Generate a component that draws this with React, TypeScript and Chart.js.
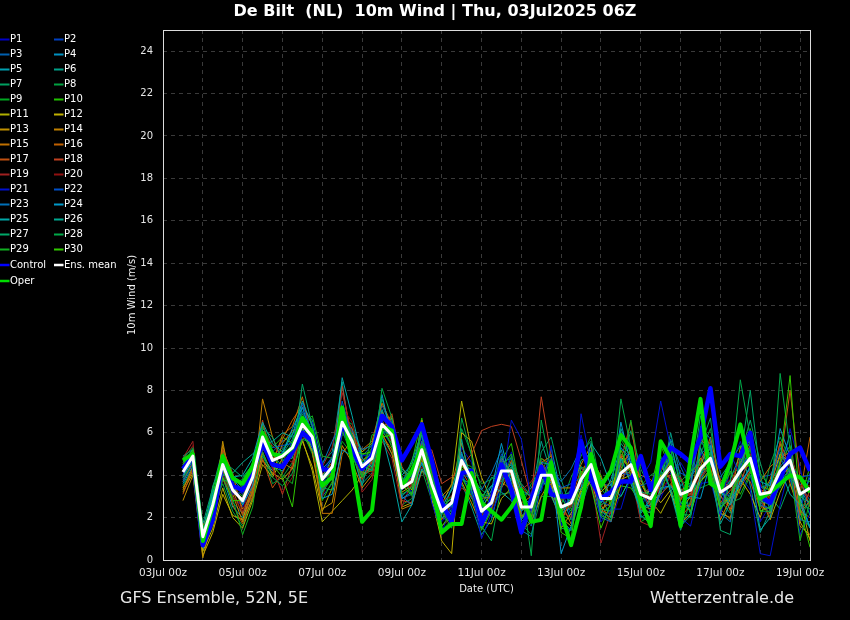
import React, { useEffect, useRef } from 'react';
import { Chart, registerables } from 'chart.js';

Chart.register(...registerables);

// ---------- texts ----------
const titleText = 'De Bilt  (NL)  10m Wind | Thu, 03Jul2025 06Z';
const yAxisTitle = '10m Wind (m/s)';
const xAxisTitle = 'Date (UTC)';
const footerLeft = 'GFS Ensemble, 52N, 5E';
const footerRight = 'Wetterzentrale.de';

// ---------- axes ----------
const firstLeadHour = 12; // hours after 03Jul 00z of the first value
const stepHours = 6;
const xMaxHour = 390;
const dayTickHours = [0, 24, 48, 72, 96, 120, 144, 168, 192, 216, 240, 264, 288, 312, 336, 360, 384];
const dayTickLabels = ['03Jul 00z', '', '05Jul 00z', '', '07Jul 00z', '', '09Jul 00z', '', '11Jul 00z', '', '13Jul 00z', '', '15Jul 00z', '', '17Jul 00z', '', '19Jul 00z'];
const yTicks = [0, 2, 4, 6, 8, 10, 12, 14, 16, 18, 20, 22, 24];
const yMax = 25;

// ---------- series ----------
const p01 = [4.0,4.8,0.9,2.2, 4.3,3.0,2.5,3.6, 5.5,4.9,5.3,5.0, 6.2,6.3,4.1,4.9, 6.8,5.2,4.0,5.1, 6.9,6.6,3.1,3.3, 5.8,3.0,1.8,2.4, 5.3,4.6,2.7,2.0, 3.6,5.1,3.2,1.9, 4.7,3.3,1.6,3.5, 5.9,4.0,2.2,1.8, 3.2,5.4,3.9,2.4, 2.9,4.1,4.6,3.8, 5.1,3.9,2.0,4.4, 5.6,4.0,1.8,2.6, 3.5,6.2,4.4,2.1];
const p02 = [4.3,5.1,1.3,2.9, 4.8,3.6,3.1,4.1, 5.9,4.3,4.6,5.6, 6.6,5.5,3.4,4.0, 6.2,6.0,4.8,4.5, 6.1,5.4,3.8,4.2, 4.6,4.0,2.9,3.3, 4.1,3.1,1.7,3.2, 5.0,3.6,1.9,3.1, 3.3,4.6,3.3,2.1, 3.0,5.2,3.6,3.5, 4.9,3.7,2.4,3.6, 4.5,5.2,2.6,2.5, 3.4,5.6,4.1,2.8, 3.3,5.5,3.9,4.0, 4.9,3.8,2.3,4.1];
const p03 = [3.8,4.6,0.7,2.0, 4.1,2.7,2.2,3.4, 5.2,5.1,5.6,5.9, 7.0,6.1,3.0,3.6, 5.9,5.9,4.9,5.4, 7.3,6.2,2.9,3.1, 5.4,4.4,2.0,1.8, 4.4,4.3,3.0,2.9, 4.6,4.8,2.2,1.6, 3.9,4.7,2.9,3.3, 4.4,3.5,2.0,2.4, 4.6,4.8,3.4,2.2, 3.3,3.5,2.9,4.1, 5.9,4.2,2.5,3.0, 4.0,5.3,2.7,2.4, 5.1,4.1,3.6,2.8];
const p04 = [4.5,5.0,1.5,3.1, 4.9,3.8,3.3,4.3, 6.1,4.4,4.2,5.0, 5.9,5.2,4.3,4.8, 7.1,5.5,4.1,4.3, 6.0,6.3,4.0,4.5, 5.9,3.3,2.5,2.9, 5.1,3.2,1.5,2.4, 4.3,3.8,2.9,3.4, 4.4,3.6,2.2,2.5, 3.6,5.0,3.8,3.0, 4.2,4.1,2.8,3.3, 4.0,4.6,3.5,3.9, 4.6,5.3,3.6,3.1, 3.6,4.4,2.8,3.7, 4.4,5.0,2.6,3.9];
const p05 = [3.6,4.4,0.5,1.8, 3.9,2.5,2.0,3.2, 4.9,4.2,4.5,4.9, 6.0,5.3,3.2,4.2, 6.4,6.2,4.6,4.4, 6.6,5.6,3.5,3.9, 4.9,4.2,2.6,2.6, 4.0,2.9,2.6,3.5, 3.8,4.6,3.0,2.6, 3.4,5.3,3.1,1.9, 3.4,4.3,2.7,3.8, 5.3,4.6,2.5,2.6, 3.6,5.0,3.0,2.9, 3.9,5.1,2.9,3.8, 5.0,4.6,3.5,3.0, 3.7,4.3,3.3,2.6];
const p06 = [4.9,5.2,1.7,3.4, 5.2,4.0,3.6,4.6, 6.4,5.0,4.4,5.4, 7.2,6.6,4.6,5.1, 8.4,5.1,3.6,4.1, 5.8,5.0,3.0,3.5, 6.2,4.8,3.2,2.2, 3.6,2.5,1.2,1.9, 3.9,4.4,3.6,3.0, 5.6,4.1,1.9,1.4, 3.1,4.8,3.0,2.0, 6.2,5.0,2.1,1.7, 3.5,6.0,3.9,2.2, 3.8,4.5,3.9,4.6, 5.4,3.5,1.3,2.3, 4.5,5.9,2.0,1.6];
const p07 = [3.5,4.3,0.6,2.9, 4.6,3.5,2.6,3.8, 5.7,4.6,5.0,5.7, 6.9,5.9,3.5,3.9, 6.0,5.4,4.3,4.9, 6.2,6.7,4.2,3.8, 4.5,3.4,2.1,3.4, 4.8,3.5,2.2,2.7, 3.1,3.2,1.6,2.2, 5.1,5.8,3.8,2.4, 2.5,3.9,3.3,4.2, 4.4,6.1,4.3,3.3, 4.9,3.2,1.4,2.8, 5.4,6.7,2.8,2.2, 4.9,6.6,4.6,3.0, 2.4,3.6,2.4,1.5];
const p08 = [4.2,4.9,1.2,2.5, 3.6,2.3,1.6,3.0, 5.0,3.6,3.9,4.6, 6.1,5.0,3.1,4.5, 6.7,6.4,5.0,5.0, 7.6,6.0,2.6,2.9, 4.3,2.8,1.4,1.6, 6.2,5.0,3.3,3.0, 4.9,3.9,1.7,1.2, 3.0,3.0,2.6,3.9, 4.9,5.8,3.4,2.7, 3.0,3.9,3.5,4.0, 4.3,4.9,2.2,2.0, 5.0,6.2,3.4,2.7, 2.9,4.0,2.5,4.5, 5.8,4.7,1.9,2.9];
const p09 = [3.9,4.5,1.0,2.7, 4.4,3.4,3.0,4.0, 5.9,4.8,5.2,6.0, 6.3,5.6,3.6,4.0, 5.6,5.0,4.6,5.3, 6.4,6.1,3.6,3.0, 5.5,3.8,1.2,1.9, 4.6,4.4,3.6,3.8, 4.4,2.9,2.5,3.6, 4.2,5.0,2.1,1.9, 4.1,4.4,2.1,2.6, 5.7,4.9,1.8,2.1, 4.1,5.4,3.7,3.6, 3.4,3.6,3.4,4.1, 4.3,5.2,3.0,2.0, 3.8,4.8,3.8,3.7];
const p10 = [4.4,4.7,1.4,3.3, 5.1,3.9,3.4,4.2, 6.3,5.3,5.8,5.5, 6.0,5.1,2.8,3.7, 6.9,5.8,3.9,4.7, 6.5,5.3,3.3,4.6, 6.7,3.9,2.4,3.0, 3.9,3.0,1.4,2.3, 4.7,5.5,3.0,2.0, 3.6,3.9,2.9,3.0, 2.8,4.7,4.0,2.5, 3.5,3.4,2.7,3.4, 5.4,4.3,2.4,3.4, 4.1,5.4,3.0,4.2, 3.1,4.1,3.5,3.3, 4.6,5.4,2.8,4.4];
const p11 = [3.2,4.1,0.4,1.5, 3.4,2.0,1.5,2.8, 4.5,3.9,4.8,5.4, 5.7,4.2,1.8,2.3, 2.8,3.3,4.0,4.4, 6.7,6.7,2.5,2.7, 4.9,3.9,2.6,3.6, 7.5,5.2,1.8,1.7, 2.9,3.4,2.4,2.8, 4.6,3.7,1.5,2.2, 3.3,4.1,3.2,3.7, 3.8,4.0,3.6,2.8, 2.2,3.1,2.3,3.0, 3.7,4.3,3.0,2.6, 4.5,5.9,3.0,1.9, 3.2,4.2,2.9,0.9];
const p12 = [3.4,4.2,0.2,1.3, 3.1,2.1,1.9,3.3, 4.7,4.1,3.8,4.3, 5.6,4.4,2.3,3.4, 6.6,6.0,5.1,5.5, 6.8,6.3,3.9,3.3, 4.8,2.9,0.9,0.3, 6.0,5.6,3.9,2.8, 3.4,4.2,2.4,2.3, 4.3,4.4,2.0,1.6, 3.2,3.7,2.2,3.2, 4.9,4.2,3.0,3.3, 2.7,3.3,1.7,2.2, 4.1,4.9,2.2,2.0, 3.8,3.1,2.0,3.5, 5.0,4.6,1.8,1.0];
const p13 = [2.8,4.0,0.1,2.0, 5.6,3.1,1.8,2.9, 5.1,4.0,5.5,6.1, 6.3,5.1,2.4,2.7, 5.4,4.6,3.4,4.0, 6.0,5.0,3.2,3.5, 6.6,4.7,2.7,2.1, 3.7,2.7,1.6,2.5, 4.8,4.1,1.4,1.8, 3.0,3.8,3.4,3.4, 4.5,5.4,2.6,1.8, 3.6,4.9,3.8,2.6, 4.0,3.9,2.8,4.0, 4.8,4.1,1.9,2.9, 5.3,5.6,2.6,2.2, 3.9,4.4,1.6,1.2];
const p14 = [3.3,4.4,0.8,2.4, 5.4,3.7,2.4,3.1, 7.6,5.8,4.6,4.3, 6.4,6.1,3.9,4.2, 6.1,5.3,4.7,5.0, 7.0,5.7,2.4,2.6, 4.2,3.7,3.0,3.5, 5.5,3.7,2.0,2.7, 4.1,4.3,2.1,2.0, 4.1,3.1,1.8,2.9, 3.7,4.9,3.9,3.0, 4.3,5.2,2.4,1.9, 3.2,4.5,3.3,3.5, 4.4,5.8,3.6,2.3, 3.4,4.2,3.0,3.8, 5.5,3.6,2.2,2.8];
const p15 = [3.7,4.6,1.1,2.8, 4.7,3.3,2.1,3.5, 5.3,4.5,5.9,6.3, 7.7,5.7,2.2,2.2, 5.0,5.7,5.2,5.6, 7.4,6.4,3.7,4.0, 5.0,3.2,1.6,2.0, 4.5,3.6,2.5,3.1, 3.7,3.3,2.7,3.0, 4.6,4.9,2.7,1.7, 3.0,3.8,2.4,2.7, 3.9,4.4,4.0,3.8, 3.1,3.6,2.5,2.6, 5.7,5.2,2.4,1.9, 4.2,4.5,3.7,4.4, 4.8,5.1,2.3,2.0];
const p16 = [4.6,5.0,1.6,2.6, 4.5,2.6,1.7,3.3, 5.4,4.7,5.7,6.6, 7.3,6.4,4.0,4.6, 7.0,6.2,4.1,4.2, 5.9,5.2,3.3,3.9, 5.6,4.1,2.2,2.5, 4.9,3.9,2.1,2.9, 4.5,4.0,2.0,2.4, 4.8,4.5,2.3,2.6, 4.0,5.1,3.1,2.8, 5.0,4.3,2.6,2.4, 3.7,4.7,3.3,3.1, 4.2,4.4,2.7,3.3, 3.7,4.8,3.3,2.9, 4.1,4.6,3.1,5.8];
const p17 = [3.1,4.3,0.9,2.1, 5.2,4.1,2.2,3.0, 4.8,3.4,4.1,5.1, 6.5,5.9,3.7,4.4, 6.3,5.0,4.5,4.6, 6.1,6.9,4.4,3.6, 5.1,3.5,1.9,2.8, 4.2,3.4,2.9,3.0, 3.5,4.7,3.5,2.9, 4.4,3.5,1.9,2.8, 4.3,4.6,2.3,2.2, 4.7,6.5,3.3,2.5, 4.4,3.8,2.0,2.6, 3.9,4.6,3.8,3.4, 4.1,3.7,2.4,3.1, 4.5,8.0,3.8,2.5];
const p18 = [3.9,5.0,1.3,2.3, 4.2,3.2,2.9,4.4, 6.6,4.4,3.1,4.5, 6.7,5.7,3.3,4.1, 8.2,5.6,3.8,4.6, 6.3,5.9,2.8,2.7, 4.8,5.2,3.6,3.9, 4.4,5.0,6.1,6.3, 6.4,6.3,4.7,2.9, 7.7,4.9,2.3,2.0, 3.8,4.2,2.9,3.1, 4.5,5.1,3.1,3.4, 3.9,4.0,2.9,3.1, 4.7,5.6,3.0,2.4, 4.6,5.4,3.3,3.2, 5.6,4.3,2.1,3.3];
const p19 = [4.8,5.6,1.0,1.9, 3.8,2.9,2.7,4.5, 6.0,5.4,4.9,4.6, 5.7,6.0,4.4,5.3, 7.9,5.9,3.2,3.8, 5.6,4.8,2.5,3.7, 5.3,3.6,2.4,2.6, 3.4,3.0,2.3,2.8, 3.9,4.1,3.3,3.7, 4.5,4.2,2.8,3.1, 3.5,4.0,0.8,2.3, 4.1,4.1,1.8,1.6, 3.6,4.2,3.9,2.9, 4.4,4.7,3.3,3.6, 4.8,5.0,2.9,2.0, 4.0,5.2,3.2,3.0];
const p20 = [4.7,5.4,1.2,2.6, 4.0,3.0,2.3,3.7, 5.6,4.3,3.2,3.9, 6.8,5.4,3.0,4.3, 7.2,6.5,4.3,4.0, 6.6,5.5,3.4,3.5, 4.4,3.3,2.8,3.0, 4.3,3.7,2.5,2.3, 3.8,3.6,2.6,2.7, 4.0,3.9,2.4,2.5, 3.6,4.2,2.5,3.3, 4.0,4.5,3.2,3.0, 3.3,3.9,3.2,3.3, 3.9,4.4,3.4,3.8, 3.5,4.3,3.6,2.8, 3.9,4.9,3.5,3.5];
const p21 = [4.1,4.6,0.8,2.4, 4.5,3.1,3.2,4.0, 6.0,4.6,4.4,5.2, 6.0,6.5,4.2,4.7, 6.5,5.5,4.9,5.0, 6.7,6.2,3.3,4.0, 5.3,2.7,1.3,2.6, 5.0,3.3,1.0,2.2, 3.3,6.6,5.7,2.8, 3.2,5.4,1.7,1.4, 6.9,4.5,1.8,2.4, 2.4,4.0,3.8,4.6, 7.5,5.3,2.0,1.6, 3.6,3.7,2.1,5.0, 4.0,3.3,0.3,0.2, 2.6,4.5,1.2,2.2];
const p22 = [4.4,5.1,1.1,2.9, 4.7,3.4,2.7,3.8, 5.6,5.3,5.4,5.5, 7.4,5.9,3.6,4.3, 7.5,5.7,4.4,4.9, 6.0,6.0,3.7,4.3, 5.0,3.9,2.7,2.5, 4.9,4.0,2.2,2.5, 4.8,3.4,1.8,2.3, 4.2,4.6,3.4,3.6, 3.9,4.3,2.8,2.5, 4.1,4.0,3.5,3.7, 3.5,5.0,4.1,3.9, 5.0,5.4,3.2,3.0, 4.5,4.9,2.6,2.4, 4.3,4.5,3.9,4.0];
const p23 = [3.7,4.5,0.9,2.8, 4.9,3.8,3.5,3.9, 5.8,4.5,5.1,5.2, 6.0,5.8,4.5,5.6, 6.6,6.1,5.2,5.4, 6.8,6.5,3.0,2.6, 5.6,4.5,2.4,1.7, 4.0,3.9,3.3,4.1, 5.2,3.0,1.4,1.1, 3.7,4.3,3.7,4.3, 5.3,4.7,2.0,1.8, 5.3,4.8,2.0,2.3, 3.1,5.7,4.4,3.4, 6.3,5.7,2.2,1.8, 4.3,6.0,3.4,3.6, 5.3,4.0,1.9,1.8];
const p24 = [4.0,4.7,1.3,3.0, 4.8,3.5,2.6,3.5, 6.1,5.0,5.0,6.2, 7.2,5.8,2.9,3.1, 5.2,4.9,4.5,5.1, 7.8,5.7,2.9,3.2, 4.6,3.3,2.2,2.6, 4.6,3.8,2.4,3.3, 5.5,3.6,2.3,2.7, 4.6,4.5,0.3,1.6, 3.1,3.9,2.7,3.3, 6.5,4.5,2.7,1.9, 3.4,3.5,2.7,3.0, 2.9,4.6,3.3,2.6, 3.7,4.3,3.7,3.5, 6.2,4.9,2.9,1.5];
const p25 = [4.2,5.0,1.4,3.2, 4.4,3.9,4.0,4.8, 6.5,5.5,5.1,5.9, 7.5,6.3,3.8,4.2, 8.6,6.8,4.8,4.4, 5.9,4.1,1.8,2.6, 4.3,3.6,2.5,3.3, 5.0,4.0,3.0,3.5, 3.2,2.8,1.9,2.6, 4.3,3.4,2.3,2.9, 3.4,5.5,4.8,3.5, 3.0,3.9,2.2,2.9, 4.7,3.2,1.6,2.1, 4.0,5.4,2.5,2.9, 3.5,4.4,1.4,2.0, 4.3,3.1,2.6,1.6];
const p26 = [3.9,4.7,0.6,2.3, 4.0,4.1,4.6,5.0, 5.4,5.6,6.0,5.8, 6.2,5.3,3.9,4.8, 6.6,5.1,3.5,5.3, 7.1,5.8,4.3,3.9, 6.4,4.4,2.0,2.2, 5.7,3.3,1.9,2.6, 4.0,4.5,3.3,3.0, 3.9,3.0,2.0,3.1, 4.7,5.0,2.3,2.0, 4.8,3.6,2.3,2.6, 4.4,5.6,3.4,2.2, 5.3,4.1,1.7,2.7, 4.6,5.6,2.8,2.6, 4.4,4.2,3.0,2.7];
const p27 = [4.6,5.2,1.0,3.5, 4.6,4.3,3.9,4.5, 6.2,5.8,4.7,4.8, 8.3,6.3,3.2,3.9, 7.0,5.8,4.5,4.2, 6.3,5.7,3.6,4.7, 6.0,3.9,2.3,2.0, 3.8,3.6,2.8,3.9, 3.7,4.4,2.9,2.5, 3.5,4.8,3.0,3.2, 5.1,5.6,2.4,2.3, 5.5,4.9,3.2,3.1, 4.2,3.4,2.0,3.6, 6.8,5.1,1.4,1.2, 4.8,8.0,4.0,2.3, 3.6,3.9,3.3,2.1];
const p28 = [4.8,5.3,1.6,2.0, 3.8,3.6,3.8,4.5, 5.1,3.9,3.5,4.1, 5.7,5.5,3.4,3.3, 6.9,5.9,3.9,4.3, 8.1,6.7,3.9,3.1, 5.4,3.0,1.4,1.9, 6.7,4.9,1.6,0.9, 3.5,4.9,3.5,0.2, 6.6,4.2,1.5,1.4, 4.4,4.1,2.6,2.9, 7.6,5.3,2.1,1.7, 4.5,5.3,2.2,2.1, 5.6,5.0,2.3,3.7, 8.5,5.8,2.3,2.3, 8.8,5.2,2.7,2.4];
const p29 = [4.3,4.9,1.5,2.6, 4.3,2.9,1.2,2.5, 5.7,5.2,4.0,3.6, 6.4,6.8,4.9,4.8, 6.1,4.9,3.9,5.9, 6.1,5.5,3.1,3.4, 6.2,4.2,2.3,1.5, 4.3,3.8,3.1,3.0, 4.4,5.0,2.6,1.8, 4.8,4.3,2.9,2.3, 3.9,4.9,2.1,1.9, 4.0,6.6,3.9,2.7, 3.2,4.5,3.7,4.2, 4.5,4.0,2.6,3.1, 3.9,6.2,4.1,3.4, 3.4,4.4,0.9,2.8];
const p30 = [4.5,5.2,1.2,2.2, 3.9,2.8,2.8,4.4, 6.1,4.5,3.9,2.5, 6.1,5.4,3.8,4.1, 6.3,5.2,5.0,5.1, 5.8,5.9,3.5,3.1, 4.9,3.1,1.6,2.2, 4.4,4.2,3.1,2.6, 4.3,3.5,2.0,2.6, 3.7,4.3,1.3,1.0, 4.2,3.5,1.5,2.7, 5.2,4.0,2.5,2.2, 3.9,4.7,2.7,2.3, 3.7,4.2,2.4,3.0, 4.3,4.5,2.3,2.5, 4.7,8.7,2.4,0.6];

const controlRun = [4.3,4.9,0.7,1.9, 4.7,3.5,3.3,4.2, 5.5,4.5,4.4,5.1, 6.0,5.6,4.3,4.2, 6.5,5.2,4.3,4.9, 6.8,6.3,4.7,5.5, 6.4,4.7,2.7,1.8, 4.1,4.2,1.7,2.8, 4.5,3.3,1.3,2.8, 4.4,3.1,3.0,3.0, 5.6,3.8,2.9,3.2, 3.7,3.7,4.9,3.3, 4.5,5.3,5.0,4.6, 5.8,8.1,4.4,5.0, 4.9,6.0,3.0,2.7, 3.8,5.0,5.3,4.2];
const operRun = [4.7,5.0,0.9,2.5, 4.9,3.85,3.6,4.4, 6.0,5.0,4.9,5.3, 6.7,6.0,3.5,3.9, 7.2,4.6,1.8,2.35, 6.3,6.1,3.45,4.2, 5.3,3.6,1.3,1.7, 1.7,4.1,2.7,2.3, 1.9,2.5,3.3,1.8, 1.9,4.6,2.2,0.7, 2.5,5.0,3.5,4.2, 5.9,5.3,2.8,1.6, 5.6,4.8,1.6,4.8, 7.6,3.6,3.3,4.6, 6.4,4.5,2.9,3.2, 3.6,4.0,3.9,3.2];
const ensMean = [4.15,4.9,1.1,2.6, 4.5,3.3,2.8,3.9, 5.8,4.7,4.9,5.3, 6.4,5.8,3.8,4.4, 6.5,5.6,4.4,4.8, 6.4,5.9,3.4,3.7, 5.2,3.6,2.3,2.7, 4.7,3.8,2.3,2.7, 4.2,4.2,2.5,2.5, 4.0,4.0,2.5,2.7, 3.8,4.5,2.9,2.9, 4.1,4.5,3.1,2.9, 3.8,4.4,3.1,3.3, 4.3,4.8,3.2,3.5, 4.2,4.8,3.1,3.2, 4.2,4.7,3.1,3.4];

const memberSeries = [p01, p02, p03, p04, p05, p06, p07, p08, p09, p10, p11, p12, p13, p14, p15, p16, p17, p18, p19, p20, p21, p22, p23, p24, p25, p26, p27, p28, p29, p30];
const memberNames = ['P1','P2','P3','P4','P5','P6','P7','P8','P9','P10','P11','P12','P13','P14','P15','P16','P17','P18','P19','P20','P21','P22','P23','P24','P25','P26','P27','P28','P29','P30'];
const memberColors = ['#0000c8','#0040c0','#0060b0','#0090c0','#00a0b0','#00a088','#00a060','#00a040','#00a820','#20c000','#b0b000','#c0b000','#c09000','#c08000','#c07000','#c06000','#c05010','#c04020','#a02020','#901010','#0010d0','#0050c8','#0070b8','#0098c8','#00a8a8','#00a890','#00a868','#00a848','#10b020','#30c800'];
const controlColor = '#0000ff';
const operColor = '#00dd00';
const meanColor = '#ffffff';

const FONT = "'DejaVu Sans', 'Liberation Sans', sans-serif";

function toPoints(values: number[]) {
  return values.map((v, i) => ({ x: firstLeadHour + i * stepHours, y: v }));
}

const decorPlugin = {
  id: 'decor',
  beforeDraw(chart: any) {
    const ctx = chart.ctx;
    ctx.save();
    ctx.fillStyle = '#000000';
    ctx.fillRect(0, 0, chart.width, chart.height);
    ctx.restore();
  },
  afterDraw(chart: any) {
    const ctx = chart.ctx;
    const a = chart.chartArea;
    ctx.save();
    ctx.setLineDash([]);
    // frame
    ctx.strokeStyle = '#dcdcdc';
    ctx.lineWidth = 1;
    ctx.strokeRect(Math.round(a.left) + 0.5, Math.round(a.top) + 0.5, Math.round(a.right - a.left), Math.round(a.bottom - a.top));

    // title
    ctx.fillStyle = '#ffffff';
    ctx.font = `bold 16px ${FONT}`;
    ctx.textAlign = 'center';
    ctx.textBaseline = 'middle';
    ctx.fillText(titleText, 435, 12);

    // axis titles
    ctx.font = `10px ${FONT}`;
    ctx.fillStyle = '#f0f0f0';
    ctx.fillText(xAxisTitle, (a.left + a.right) / 2, 589);
    ctx.save();
    ctx.translate(132, (a.top + a.bottom) / 2);
    ctx.rotate(-Math.PI / 2);
    ctx.fillText(yAxisTitle, 0, 0);
    ctx.restore();

    // footers
    ctx.font = `16px ${FONT}`;
    ctx.fillStyle = '#e8e8e8';
    ctx.textAlign = 'left';
    ctx.fillText(footerLeft, 120, 599);
    ctx.textAlign = 'right';
    ctx.fillText(footerRight, 794, 599);

    // legend
    const entries: { name: string; color: string; width: number }[] = memberNames.map((n, i) => ({ name: n, color: memberColors[i], width: 2 }));
    entries.push({ name: 'Control', color: controlColor, width: 2.5 });
    entries.push({ name: 'Ens. mean', color: meanColor, width: 2.5 });
    entries.push({ name: 'Oper', color: operColor, width: 2.5 });
    ctx.font = `10px ${FONT}`;
    ctx.textAlign = 'left';
    ctx.textBaseline = 'middle';
    entries.forEach((e, i) => {
      const row = Math.floor(i / 2);
      const col = i % 2;
      const y = row < 15 ? 39.5 + row * 15 : 265 + (row - 15) * 16;
      const x0 = col === 0 ? 0 : 54;
      ctx.strokeStyle = e.color;
      ctx.lineWidth = e.width;
      ctx.beginPath();
      ctx.moveTo(x0, y);
      ctx.lineTo(x0 + 9.5, y);
      ctx.stroke();
      ctx.fillStyle = '#ffffff';
      ctx.fillText(e.name, x0 + 10, y);
    });
    ctx.restore();
  },
};

export default function App() {
  const canvasRef = useRef<HTMLCanvasElement | null>(null);

  useEffect(() => {
    if (!canvasRef.current) return;
    const datasets: any[] = [];
    datasets.push({ label: 'Ens. mean', data: toPoints(ensMean), borderColor: meanColor, borderWidth: 3, order: 0, borderJoinStyle: 'round' });
    datasets.push({ label: 'Oper', data: toPoints(operRun), borderColor: operColor, borderWidth: 4, order: 1, borderJoinStyle: 'round' });
    datasets.push({ label: 'Control', data: toPoints(controlRun), borderColor: controlColor, borderWidth: 4.5, order: 2, borderJoinStyle: 'round' });
    memberSeries.forEach((s, i) => {
      datasets.push({ label: memberNames[i], data: toPoints(s), borderColor: memberColors[i], borderWidth: 1, order: 3 + (memberSeries.length - i) });
    });
    datasets.forEach((d) => {
      d.pointRadius = 0;
      d.pointHoverRadius = 0;
      d.tension = 0;
      d.fill = false;
      d.backgroundColor = d.borderColor;
    });

    const chart = new Chart(canvasRef.current, {
      type: 'line',
      data: { datasets },
      plugins: [decorPlugin],
      options: {
        animation: false,
        responsive: false,
        maintainAspectRatio: false,
        events: [],
        layout: { padding: { left: 0, top: 30, right: 40, bottom: 0 } },
        plugins: {
          legend: { display: false },
          tooltip: { enabled: false },
          title: { display: false },
        },
        scales: {
          x: {
            type: 'linear',
            min: 0,
            max: xMaxHour,
            afterBuildTicks: (scale: any) => {
              scale.ticks = dayTickHours.map((h) => ({ value: h }));
            },
            afterFit: (scale: any) => {
              scale.height = 60;
              scale.paddingLeft = 0;
              scale.paddingRight = 0;
            },
            grid: { color: '#3a3a3a', lineWidth: 1, drawTicks: false },
            border: { display: false, dash: [4, 4] },
            ticks: {
              autoSkip: false,
              maxRotation: 0,
              minRotation: 0,
              padding: 7,
              color: '#e6e6e6',
              font: { family: FONT, size: 10.5 },
              callback: (value: any) => {
                const k = dayTickHours.indexOf(Number(value));
                return k >= 0 ? dayTickLabels[k] : '';
              },
            },
          },
          y: {
            type: 'linear',
            min: 0,
            max: yMax,
            afterBuildTicks: (scale: any) => {
              scale.ticks = yTicks.map((v) => ({ value: v }));
            },
            afterFit: (scale: any) => {
              scale.width = 163;
            },
            grid: { color: '#3a3a3a', lineWidth: 1, drawTicks: false },
            border: { display: false, dash: [4, 4] },
            ticks: {
              padding: 10,
              color: '#e6e6e6',
              font: { family: FONT, size: 10 },
              callback: (value: any) => String(value),
            },
          },
        },
      } as any,
    });
    return () => chart.destroy();
  }, []);

  return (
    <div style={{ position: 'fixed', left: 0, top: 0, width: 850, height: 620, background: '#000' }}>
      <canvas ref={canvasRef} width={850} height={620} style={{ display: 'block', width: 850, height: 620 }} />
    </div>
  );
}
